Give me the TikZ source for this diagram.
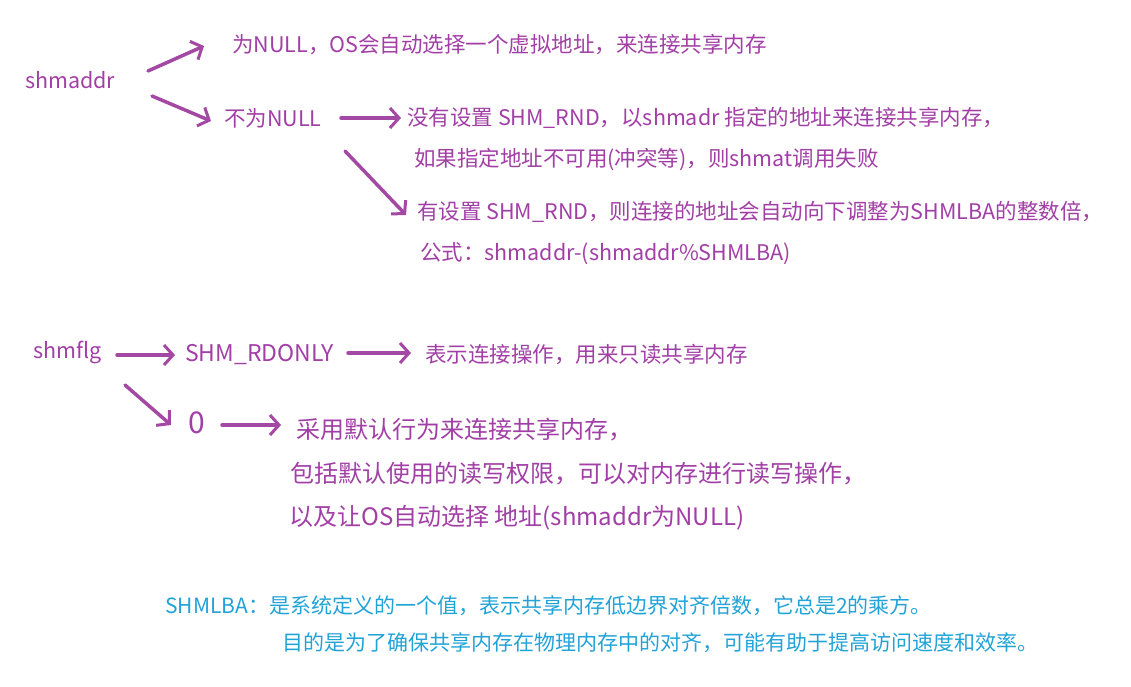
\documentclass[tikz,border=0pt]{standalone}
\usepackage{fontspec}
\setmainfont{Noto Sans CJK SC}
\usetikzlibrary{arrows.meta}
\definecolor{pt}{HTML}{A23FA6}
\definecolor{pa}{HTML}{A349A4}
\definecolor{bt}{HTML}{22A3D8}
\tikzset{
  lbl/.style={anchor=west, inner sep=0pt, text=pt, font=\fontsize{21.5}{21.5}\selectfont},
  biglbl/.style={lbl, font=\fontsize{24}{24}\selectfont},
  blbl/.style={anchor=west, inner sep=0pt, text=bt, font=\fontsize{21}{21}\selectfont},
  arr/.style={draw=pa, line width=3.5pt, line cap=round, -{Straight Barb[length=9pt,width=20pt,line width=3pt]}},
}
\begin{document}
\begin{tikzpicture}[x=1pt,y=-1pt]
\useasboundingbox[fill=white] (0,0) rectangle (1131,687);
\node[lbl] (a) at (25,80) {shmaddr};
\node[lbl] (a1) at (232,45) {为NULL，OS会自动选择一个虚拟地址，来连接共享内存};
\node[lbl] (a2) at (224,118) {不为NULL};
\node[lbl] (b1) at (407,118) {没有设置 SHM\_RND，以shmadr 指定的地址来连接共享内存，};
\node[lbl] (b1b) at (414,160) {如果指定地址不可用(冲突等)，则shmat调用失败};
\node[lbl] (b2) at (417,212) {有设置 SHM\_RND，则连接的地址会自动向下调整为SHMLBA的整数倍，};
\node[lbl] (b2b) at (420,254) {公式：shmaddr-(shmaddr\%SHMLBA)};
\node[lbl] (f) at (33,352) {shmflg};
\node[lbl, font=\fontsize{23}{23}\selectfont] (f1) at (185,355) {SHM\_RDONLY};
\node[lbl] (f1b) at (425,355) {表示连接操作，用来只读共享内存};
\node[lbl, font=\fontsize{30}{30}\selectfont] (f2) at (188,423) {0};
\node[biglbl] (c1) at (296,430) {采用默认行为来连接共享内存，};
\node[biglbl] (c2) at (290,474) {包括默认使用的读写权限，可以对内存进行读写操作，};
\node[biglbl] (c3) at (289,518) {以及让OS自动选择 地址(shmaddr为NULL)};
\node[blbl] (s1) at (165,606) {SHMLBA：是系统定义的一个值，表示共享内存低边界对齐倍数，它总是2的乘方。};
\node[blbl] (s2) at (282,643) {目的是为了确保共享内存在物理内存中的对齐，可能有助于提高访问速度和效率。};
\coordinate (p1) at (148,71); \coordinate (q1) at (204,46);
\coordinate (p2) at (152,96); \coordinate (q2) at (211,121);
\coordinate (p3) at (341,118); \coordinate (q3) at (401,118);
\coordinate (p4) at (345,151); \coordinate (q4) at (406,215);
\coordinate (p5) at (117,355); \coordinate (q5) at (175,355);
\coordinate (p6) at (348,353); \coordinate (q6) at (411,353);
\coordinate (p7) at (125,385); \coordinate (q7) at (171,425);
\coordinate (p8) at (222,425); \coordinate (q8) at (281,425);
\draw[arr] (p1) -- (q1);
\draw[arr] (p2) -- (q2);
\draw[arr] (p3) -- (q3);
\draw[arr] (p4) -- (q4);
\draw[arr] (p5) -- (q5);
\draw[arr] (p6) -- (q6);
\draw[arr] (p7) -- (q7);
\draw[arr] (p8) -- (q8);
\end{tikzpicture}
\end{document}
